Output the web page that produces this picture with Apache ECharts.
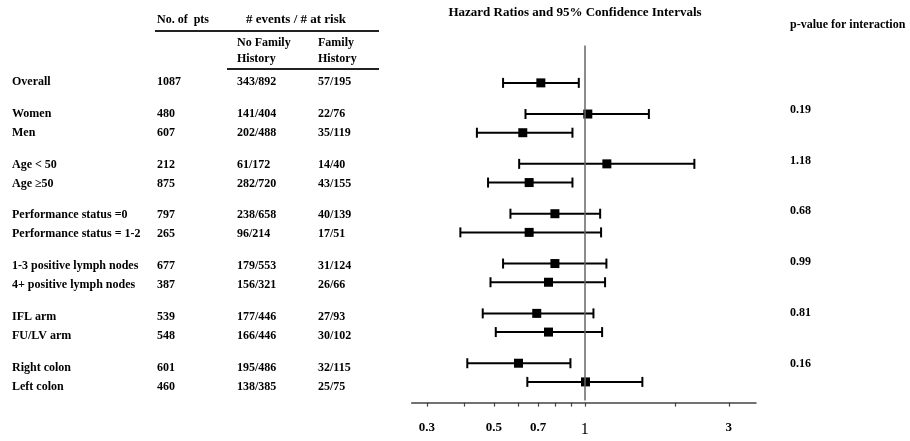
<!DOCTYPE html>
<html><head><meta charset="utf-8">
<script src="https://cdn.jsdelivr.net/npm/echarts@6/dist/echarts.min.js"></script>
<style>html,body{margin:0;padding:0;background:#fff}#c{width:910px;height:441px}</style>
</head><body><div id="c"></div>
<script>
// ---------------- data ----------------
const rowLabels = ['Overall','Women','Men','Age < 50','Age \u226550','Performance status =0','Performance status = 1-2',
  '1-3 positive lymph nodes','4+ positive lymph nodes','IFL arm','FU/LV arm','Right colon','Left colon'];
const groupOf = [0,1,1,2,2,3,3,4,4,5,5,6,6];
const nPts = [1087,480,607,212,875,797,265,677,387,539,548,601,460];
const eventsNoFH = ['343/892','141/404','202/488','61/172','282/720','238/658','96/214','179/553','156/321','177/446','166/446','195/486','138/385'];
const eventsFH = ['57/195','22/76','35/119','14/40','43/155','40/139','17/51','31/124','26/66','27/93','30/102','32/115','25/75'];
const hazardRatio = [0.715,1.023,0.623,1.183,0.654,0.796,0.654,0.796,0.758,0.693,0.758,0.603,1.005];
const ciLow  = [0.536,0.636,0.439,0.606,0.478,0.567,0.387,0.536,0.487,0.459,0.507,0.408,0.645];
const ciHigh = [0.955,1.630,0.910,2.306,0.910,1.124,1.132,1.179,1.167,1.068,1.141,0.896,1.551];
const pInteraction = [null,'0.19',null,'1.18',null,'0.68',null,'0.99',null,'0.81',null,'0.16',null];
const xTickValues = [0.3,0.4,0.5,0.6,0.7,0.8,0.9,1,2,3];
const xTickLabels = [0.3,0.5,0.7,1,3];
const title = 'Hazard Ratios and 95% Confidence Intervals';
const pHeader = 'p-value for interaction';

// ---------------- layout helpers ----------------
const FONT = '"Liberation Serif","Times New Roman",serif';
const textCats = [], plotCats = [], rowCat = [];
for (let k = 0; k < 6; k++) plotCats.push('lead' + k);
let sp = 0;
rowLabels.forEach((l, i) => {
  if (i > 0) {
    const n = groupOf[i] !== groupOf[i - 1] ? 4 : 2;
    for (let k = 0; k < n; k++) { const s = 'sp' + (sp++); textCats.push(s); plotCats.push(s); }
  }
  const name = 'row' + i;
  textCats.push(name); plotCats.push(name); rowCat.push(name);
});
for (let k = 0; k < 3; k++) plotCats.push('trail' + k);

const txt = (x, y, s, extra) => Object.assign({
  type: 'text', x: x, y: y,
  style: Object.assign({ text: s, fill: '#000', font: 'bold 12px ' + FONT, verticalAlign: 'middle' }, extra || {})
});

const chart = echarts.init(document.getElementById('c'));
chart.setOption({
  animation: false,
  backgroundColor: '#fff',
  grid: [
    { left: 0, width: 400, top: 82, height: 304.7 },
    { left: 411.7, width: 344.3, top: 45.5, height: 355.1 }
  ],
  xAxis: [
    { gridIndex: 0, type: 'value', min: 0, max: 1, show: false },
    { gridIndex: 1, type: 'log', logBase: 10, min: 0.267, max: 3.69, offset: 2,
      axisLine: { show: true, lineStyle: { color: '#444', width: 1.5 } },
      axisTick: { show: true, length: 4, lineStyle: { color: '#444', width: 1.2 }, customValues: xTickValues },
      axisLabel: { show: true, margin: 19, customValues: xTickLabels,
        formatter: v => (Math.abs(v - 1) < 1e-9 ? '{big|1}' : '{s|' + (+v.toFixed(2)) + '}'),
        rich: {
          s: { fontFamily: FONT, fontWeight: 'bold', fontSize: 13, color: '#000' },
          big: { fontFamily: FONT, fontSize: 16, color: '#000' }
        } },
      splitLine: { show: false } }
  ],
  yAxis: [
    { gridIndex: 0, type: 'category', data: textCats, inverse: true, boundaryGap: false, show: false },
    { gridIndex: 1, type: 'category', data: plotCats, inverse: true, boundaryGap: false, show: false }
  ],
  graphic: [
    txt(157, 20, 'No. of  pts'),
    txt(296, 20, '# events / # at risk', { align: 'center', font: 'bold 13px ' + FONT }),
    { type: 'line', shape: { x1: 155, y1: 31, x2: 379, y2: 31 }, style: { stroke: '#222', lineWidth: 2 } },
    txt(237, 43, 'No Family'), txt(237, 59, 'History'),
    txt(318, 43, 'Family'), txt(318, 59, 'History'),
    { type: 'line', shape: { x1: 227, y1: 69, x2: 379, y2: 69 }, style: { stroke: '#222', lineWidth: 2 } },
    txt(575, 13, title, { align: 'center', font: 'bold 13px ' + FONT }),
    txt(790, 25, pHeader)
  ],
  series: [
    {
      type: 'custom', xAxisIndex: 0, yAxisIndex: 0, silent: true,
      encode: { x: 0, y: 1 },
      data: rowLabels.map((l, i) => [0, rowCat[i]]),
      renderItem: (params, api) => {
        const i = params.dataIndex;
        const y = api.coord([0, api.value(1)])[1];
        const st = s => ({ text: String(s), fill: '#000', font: 'bold 12px ' + FONT, verticalAlign: 'middle' });
        const ch = [
          { type: 'text', x: 12, y: y, style: st(rowLabels[i]) },
          { type: 'text', x: 157, y: y, style: st(nPts[i]) },
          { type: 'text', x: 237, y: y, style: st(eventsNoFH[i]) },
          { type: 'text', x: 318, y: y, style: st(eventsFH[i]) }
        ];
        if (pInteraction[i]) ch.push({ type: 'text', x: 790, y: y - 4, style: st(pInteraction[i]) });
        return { type: 'group', children: ch };
      }
    },
    {
      type: 'line', xAxisIndex: 1, yAxisIndex: 1, data: [], silent: true,
      markLine: { silent: true, symbol: 'none', label: { show: false },
        lineStyle: { color: '#666', width: 1.5, type: 'solid' },
        data: [{ xAxis: 1 }] }
    },
    {
      type: 'custom', xAxisIndex: 1, yAxisIndex: 1, silent: true,
      encode: { x: [0, 2, 3], y: 1 },
      data: rowLabels.map((l, i) => [ciLow[i], rowCat[i], hazardRatio[i], ciHigh[i]]),
      renderItem: (params, api) => {
        const c = api.value(1);
        const p0 = api.coord([api.value(0), c]);
        const pm = api.coord([api.value(2), c]);
        const p1 = api.coord([api.value(3), c]);
        const y = p0[1], cap = 5, sz = 9;
        const ls = { stroke: '#000', lineWidth: 2 };
        return { type: 'group', children: [
          { type: 'line', shape: { x1: p0[0], y1: y, x2: p1[0], y2: y }, style: ls },
          { type: 'line', shape: { x1: p0[0], y1: y - cap, x2: p0[0], y2: y + cap }, style: ls },
          { type: 'line', shape: { x1: p1[0], y1: y - cap, x2: p1[0], y2: y + cap }, style: ls },
          { type: 'rect', shape: { x: pm[0] - sz / 2, y: y - sz / 2, width: sz, height: sz }, style: { fill: '#000' } }
        ] };
      }
    }
  ]
});
</script>
</body></html>
